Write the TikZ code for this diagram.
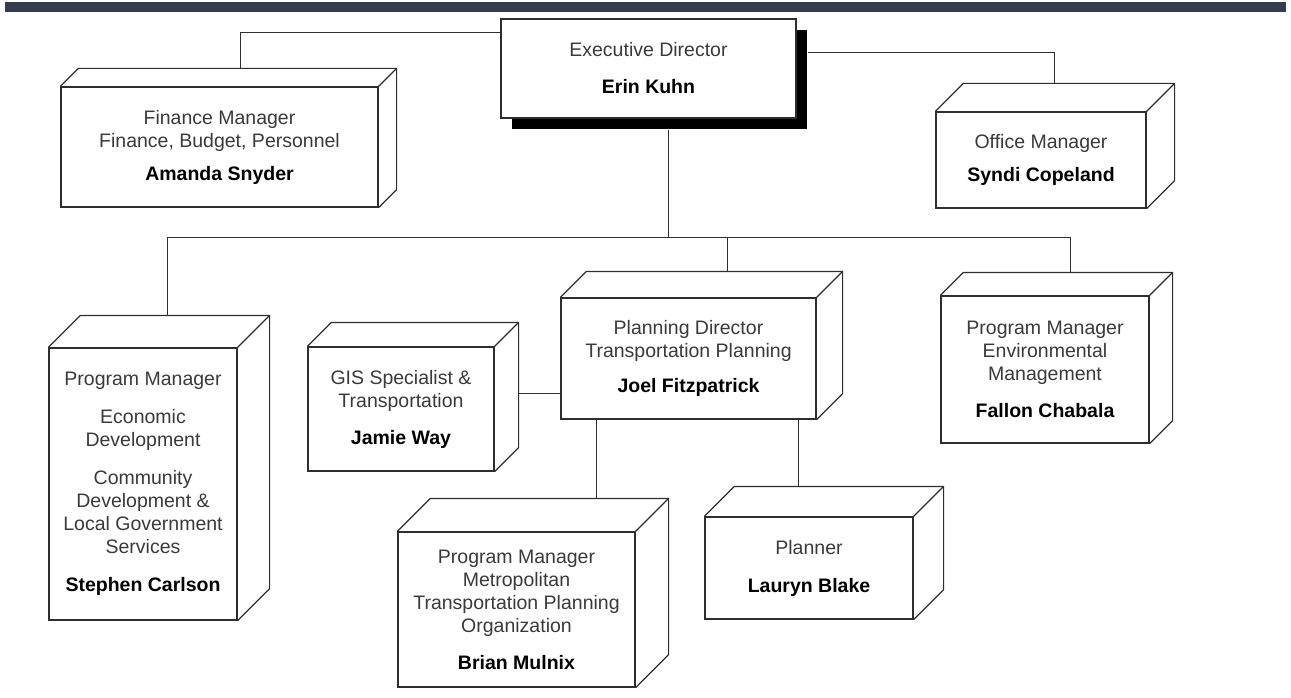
\documentclass[tikz,border=0pt]{standalone}
\usepackage{fontspec}
\setmainfont{Liberation Sans}
\usetikzlibrary{shadows}

\definecolor{barnavy}{HTML}{333D4F}
\definecolor{titlegray}{HTML}{3A3A3A}
\definecolor{edgegray}{HTML}{2E2E2E}

\tikzset{
  box/.style={draw=edgegray, line width=1.2pt, fill=white, align=center, inner sep=0pt,
    text=titlegray, font=\fontsize{19.5}{23}\selectfont},
  side/.style={draw=edgegray, line width=1.2pt, line join=miter},
  link/.style={draw=edgegray, line width=1pt}
}

% name of the person, bold and black
\newcommand{\who}[1]{{\color{black}\bfseries #1}}
% top and right faces of a box node: #1 node, #2 depth
\newcommand{\depthface}[2]{%
  \draw[side] (#1.north west) -- ([shift={(#2,-#2)}]#1.north west)
    -- ([shift={(#2,-#2)}]#1.north east) -- ([shift={(#2,-#2)}]#1.south east) -- (#1.south east);
  \draw[side] (#1.north east) -- ([shift={(#2,-#2)}]#1.north east);
}

\begin{document}
\begin{tikzpicture}[x=1pt,y=-1pt]
	\useasboundingbox (0,0) rectangle (1291,698);
	\fill[barnavy] (5,2) rectangle (1286,12); % top bar

	\node[box, minimum width=295, minimum height=99,
	  drop shadow={shadow xshift=11pt, shadow yshift=-11pt, fill=black, opacity=1}]
	  (exec) at (648.5,68.5) {Executive Director\\[14pt]\who{Erin Kuhn}}; % executive director

	\node[box, minimum width=317, minimum height=120] (fin) at (219.5,147)
	  {Finance Manager\\Finance, Budget, Personnel\\[10pt]\who{Amanda Snyder}}; % finance
	\node[box, minimum width=210, minimum height=96] (off) at (1041,160)
	  {Office Manager\\[10pt]\who{Syndi Copeland}}; % office

	\node[box, minimum width=188, minimum height=272] (ste) at (143,484)
	  {Program Manager\\[15pt]Economic\\Development\\[15pt]Community\\Development \&\\Local Government\\Services\\[15pt]\who{Stephen Carlson}}; % economic / community
	\node[box, minimum width=186, minimum height=124] (gis) at (401,409)
	  {GIS Specialist \&\\Transportation\\[14pt]\who{Jamie Way}}; % gis
	\node[box, minimum width=255, minimum height=121] (joel) at (688.5,358.5)
	  {Planning Director\\Transportation Planning\\[12pt]\who{Joel Fitzpatrick}}; % planning director
	\node[box, minimum width=208, minimum height=147] (fal) at (1045,369.5)
	  {Program Manager\\Environmental\\Management\\[14pt]\who{Fallon Chabala}}; % environmental
	\node[box, minimum width=237, minimum height=155] (bri) at (516.5,609.5)
	  {Program Manager\\Metropolitan\\Transportation Planning\\Organization\\[14pt]\who{Brian Mulnix}}; % mpo
	\node[box, minimum width=208, minimum height=102] (lau) at (809,568)
	  {Planner\\[15pt]\who{Lauryn Blake}}; % planner

	\depthface{fin}{18}
	\depthface{off}{28}
	\depthface{ste}{32}
	\depthface{gis}{24}
	\depthface{joel}{26}
	\depthface{fal}{23}
	\depthface{bri}{33}
	\depthface{lau}{30}

	\coordinate (bar) at (0,237); % level of the staff line
	\coordinate (fin-in) at ([shift={(20.5,-18)}]fin.north);
	\coordinate (off-in) at ([shift={(13,-28)}]off.north);
	\coordinate (ste-in) at ([shift={(24,-32)}]ste.north);
	\coordinate (fal-in) at ([shift={(25,-23)}]fal.north);
	\coordinate (joel-in) at ([shift={(38.5,-26)}]joel.north);
	\coordinate (bri-in) at ([shift={(79.5,-33)}]bri.north);
	\coordinate (lau-in) at ([shift={(-11,-30)}]lau.north);
	\coordinate (exec-out) at ([shift={(19.5,11)}]exec.south);

	\draw[link] ([shift={(0,14)}]exec.north west) -| (fin-in); % to finance
	\draw[link] ([shift={(11,34)}]exec.north east) -| (off-in); % to office
	\draw[link] (exec-out) -- (exec-out |- bar); % down to staff line
	\draw[link] (ste-in) -- (ste-in |- bar) -- (fal-in |- bar) -- (fal-in); % staff line
	\draw[link] (joel-in |- bar) -- (joel-in); % to planning director
	\draw[link] ([shift={(24,-16)}]gis.east) -- (joel.west |- {0,393}); % gis to planning
	\draw[link] (bri-in |- joel.south) -- (bri-in); % to mpo
	\draw[link] (lau-in |- joel.south) -- (lau-in); % to planner
\end{tikzpicture}
\end{document}
